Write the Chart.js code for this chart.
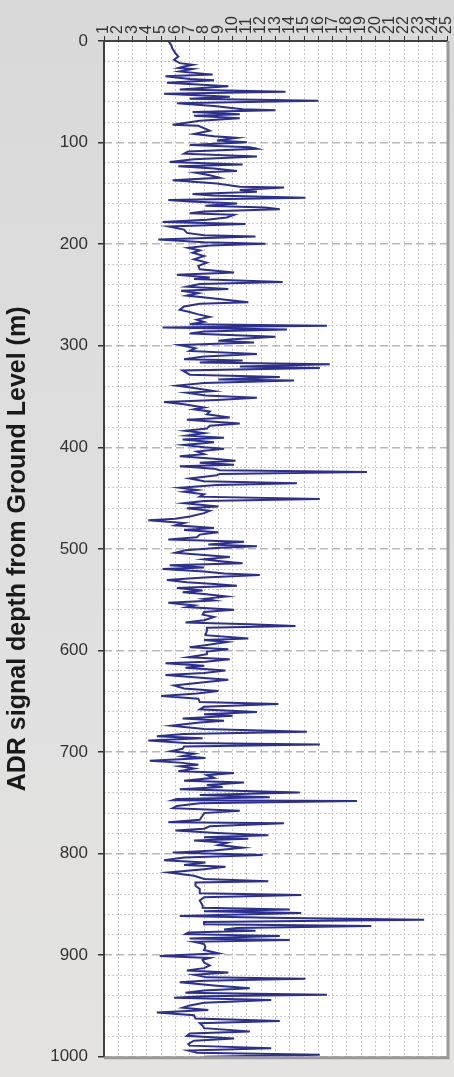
<!DOCTYPE html>
<html>
<head>
<meta charset="utf-8">
<script src="https://cdn.jsdelivr.net/npm/chart.js@4.4.0/dist/chart.umd.min.js"></script>
<style>
  html, body { margin: 0; padding: 0; }
  body { width: 454px; height: 1077px; overflow: hidden; background: linear-gradient(#d9d9d9, #e0e0e0 60%, #e4e3e1); }
  canvas { display: block; }
</style>
</head>
<body>
<canvas id="adrChart" width="454" height="1077"></canvas>
<script>
// depth below ground level (m) for each reading
const depthM = [
  0, 4, 8, 12, 15.3, 18.5, 21.8, 23.4, 25, 26.6, 27.6, 29.9, 33.1, 34.7, 37.3, 38.6, 41.2, 44.5, 47.7, 50,
  51.9, 54.9, 56.8, 58.8, 61.4, 64, 67.2, 68.2, 69.8, 72.1, 73.7, 76, 78.6, 82.5, 83.4, 88.3, 91.5, 93.8, 95.4, 98,
  99.7, 102.3, 104.5, 106.1, 108.7, 111, 113.6, 116.5, 119.1, 121.7, 123.3, 125.6, 127.9, 129.5, 132.1, 134.7, 137, 140.2, 143.5, 144.1,
  146.7, 148.3, 150.6, 152.2, 154.2, 156.5, 158.1, 160, 162.3, 163.9, 165.6,
  167.8, 169.5, 171.1, 173.7, 176, 178.2, 180.2, 182.5, 185.7, 188.9, 191.2, 192.5, 195.4, 198, 199.7, 201.3, 203.6, 206.2, 208.4, 211.7,
  214.9, 218.2, 221.4, 224.7, 227.9, 230.2, 232.8, 234.4, 237.3, 239.3, 241.9, 244.1, 245.8, 248.3, 250.6, 252.9, 257.1, 258.7, 261.3, 264.6,
  266.8, 269.1, 271.7, 274.3, 276.6, 278.9, 280.2, 282.1, 284.1, 286, 288, 291.2, 293.8, 295.1, 296.7, 299.3, 302.5, 305.1, 308.1, 310.7,
  313.3, 314.6, 316.5, 318.1, 320.4, 322, 324.3, 328.5, 330.8,
  333.3, 334.3, 336.6, 339.2, 341.5, 344.7, 346.3, 348.9, 351.2, 353.5, 355.4, 357.7, 360.9, 362.6, 364.8, 367.4, 370.7, 372.9, 374.9, 376.5,
  378.8, 381.4, 383.7, 385.9, 388.5, 390.5, 392.4, 395, 397.6, 399.9, 401.5, 404.1, 406.7, 408.7, 411.3, 413.2, 415.1, 417.1, 418.7, 421,
  422.6, 424.2, 426.2, 427.5, 430.7, 433.3, 435.3, 437.2, 439.8, 442.1, 443.7, 446.3, 448.6, 450.9, 452.8, 455, 458.3, 459.9, 462.5, 464.8,
  468, 470.3, 471.9, 474.5, 476.8, 479.4, 481.4, 483.6, 485.9, 488.5, 490.8, 493, 495.6, 497.3,
  498.8, 501.4, 503.7, 506, 507.9, 510.2, 511.8, 514.1, 516.1, 518.3, 519.9, 522.2, 524.2, 525.8, 528.1, 530.7, 532.9, 534.6, 536.2, 538.4,
  541, 542.7, 544.3, 546.9, 549.2, 550.8, 553.1, 555.7, 557.3, 559.9, 562.1, 564.7, 567, 570.3, 572.5, 574.2, 575.8, 577.7, 580.6, 584.9,
  588.1, 589.7, 591.7, 594.6, 596.9, 598.8, 601.1, 603.7, 606.6, 608.6, 611.2, 612.5, 615.1, 617, 619.6, 622.2, 624.1, 627.1, 628.7, 631.3,
  634.5, 637.5, 640, 642.3, 644.9, 647.5, 650.8, 652.7, 655.3, 657.9, 660.5,
  662.7, 664.3, 666.9, 669.2, 670.8, 674.1, 677.3, 679.9, 682.2, 684.5, 686.4, 688.7, 691, 692.6, 694.5, 696.8, 699.1, 701.7, 703.9, 705.9,
  708.5, 710.4, 712.4, 714, 716.3, 718.9, 720.5, 722.8, 725.4, 728.3, 729.9, 732.5, 734.5, 736.7, 739.7, 742.3, 744.5, 746.1, 747.4, 748.1,
  750.4, 753, 755.2, 757.8, 760.1, 762.4, 766.6, 769.2, 770.2, 773.1, 775.4, 777.3, 779.6, 781.9, 783.8, 785.4, 787, 789.3, 791.6, 794.2,
  796.8, 799, 801.3, 803.9, 806.5, 808.8, 811.1, 813, 815.3, 818.5, 821.8, 825, 827.3,
  828.3, 831.6, 834.8, 839, 840.7, 842.9, 846.2, 851, 853.3, 854.9, 856.6, 858.5, 860.1, 861.4, 863.1, 865, 867.3, 869.5, 871.2, 873.1,
  874.7, 876, 877.7, 879.3, 881.2, 883.5, 885.1, 886.8, 889, 891.6, 894.9, 898.1, 900.7, 902.7, 904.6, 907.2, 910.1, 912.7, 915, 916.9,
  919.2, 921.8, 923.1, 925.1, 926.7, 929.9, 932.5, 934.8, 937, 939, 940.3, 941.9, 944.2, 946.8, 949.4, 951.7, 953.9, 956.5, 959.1, 962.4,
  964.7, 966.9, 969.5, 971.8, 975, 977, 979.3, 981.9, 984.1, 987.4, 989, 991.6, 993.9, 996.1, 998.1, 1000
];

// ADR signal reading at each depth
const signal = [
  5.5, 5.7, 5.8, 6.0, 6.2, 5.9, 6.3, 7.2, 6.6, 6.2, 7.2, 6.3, 8.6, 5.3, 7.0, 8.7, 5.4, 9.7, 6.3, 13.7,
  5.2, 9.8, 7.0, 16.0, 6.1, 8.7, 10.7, 13.0, 7.2, 10.5, 7.3, 10.5, 7.7, 5.8, 7.6, 8.4, 7.3, 8.7, 10.3, 8.9,
  11.0, 7.0, 11.2, 11.7, 6.9, 6.6, 11.7, 7.3, 5.6, 10.7, 6.2, 8.7, 10.3, 7.4, 8.4, 9.1, 5.8, 8.9, 10.5, 13.6,
  10.5, 11.7, 7.2, 8.6, 15.1, 5.5, 7.0, 10.3, 8.1, 12.3, 13.3,
  8.0, 7.0, 10.1, 9.6, 8.2, 5.1, 10.9, 5.5, 6.6, 6.8, 8.0, 11.6, 4.8, 8.0, 12.3, 8.4, 6.9, 7.7, 7.2, 8.0,
  7.3, 8.2, 7.6, 7.7, 10.1, 6.1, 8.4, 7.3, 13.5, 7.7, 6.8, 9.7, 6.4, 7.6, 6.8, 8.4, 11.1, 7.7, 6.6, 6.3,
  7.0, 7.6, 8.4, 7.5, 8.0, 7.0, 16.6, 5.1, 13.8, 8.0, 7.0, 13.0, 9.8, 9.0, 11.5, 6.3, 7.4, 7.0, 11.7, 8.0,
  6.6, 10.7, 7.7, 16.8, 10.5, 16.1, 6.5, 7.0, 13.3,
  9.0, 14.3, 8.0, 6.1, 7.3, 8.7, 6.8, 8.1, 11.7, 8.9, 5.2, 6.6, 8.0, 7.3, 8.4, 8.2, 9.8, 6.8, 8.7, 10.5,
  8.4, 8.2, 6.7, 8.0, 6.8, 9.4, 6.5, 8.7, 6.6, 8.0, 9.4, 7.5, 8.0, 6.3, 8.7, 10.2, 7.7, 10.1, 6.3, 8.7,
  9.1, 19.4, 9.1, 8.9, 7.0, 8.0, 14.5, 8.9, 6.3, 7.5, 6.6, 8.0, 7.7, 16.1, 8.0, 6.6, 9.0, 6.8, 8.4, 8.0,
  7.0, 6.0, 4.1, 6.6, 6.0, 8.7, 6.6, 9.0, 7.7, 7.5, 5.5, 10.8, 8.3, 11.7,
  9.1, 6.7, 6.0, 8.0, 9.8, 8.0, 9.0, 10.7, 5.6, 8.0, 5.1, 8.0, 9.4, 11.9, 8.0, 5.4, 6.8, 8.7, 10.3, 6.1,
  7.9, 6.5, 8.0, 9.6, 8.0, 8.7, 5.5, 7.3, 6.8, 10.1, 8.0, 7.9, 8.7, 8.0, 6.7, 11.2, 14.4, 8.2, 8.2, 8.1,
  11.1, 8.0, 9.6, 8.2, 7.0, 9.7, 8.2, 8.2, 6.9, 9.8, 8.1, 5.3, 8.0, 6.7, 9.5, 8.0, 5.3, 8.0, 9.7, 8.0,
  5.9, 6.6, 9.0, 7.5, 5.0, 7.6, 7.7, 13.2, 8.0, 7.7, 11.7,
  8.0, 10.0, 6.5, 9.4, 7.7, 5.7, 8.0, 15.2, 6.6, 4.7, 7.9, 4.1, 6.7, 16.1, 6.6, 6.5, 5.7, 7.3, 6.5, 8.1,
  4.2, 6.3, 7.6, 6.3, 7.3, 6.2, 10.1, 8.2, 8.7, 6.6, 10.8, 8.2, 9.3, 6.3, 14.7, 7.7, 12.6, 6.1, 5.8, 18.7,
  7.7, 6.1, 5.8, 10.5, 8.0, 7.9, 7.7, 5.5, 13.6, 8.4, 8.0, 6.0, 8.9, 12.5, 8.0, 11.1, 7.3, 9.6, 9.0, 10.7,
  8.7, 5.8, 12.1, 6.6, 5.2, 8.1, 6.6, 9.5, 8.0, 5.5, 7.3, 8.0, 12.5,
  7.4, 7.4, 7.7, 7.7, 14.8, 8.0, 7.7, 7.9, 7.9, 14.0, 8.0, 14.8, 9.8, 6.3, 12.6, 23.4, 8.0, 8.0, 19.7, 10.3,
  9.4, 11.6, 6.9, 6.7, 13.3, 7.0, 14.0, 7.3, 8.0, 8.1, 8.0, 9.0, 4.9, 8.4, 7.9, 8.0, 8.4, 8.0, 6.8, 9.7,
  7.3, 8.2, 15.1, 8.0, 6.3, 8.7, 11.2, 8.0, 6.7, 16.6, 8.0, 5.9, 12.7, 8.0, 7.0, 6.5, 8.3, 4.7, 7.3, 7.4,
  13.3, 7.7, 7.9, 8.0, 11.2, 7.0, 6.8, 10.1, 7.3, 6.9, 7.0, 12.7, 6.9, 7.5, 16.1, 8.0
];

const signalTicks = [1, 2, 3, 4, 5, 6, 7, 8, 9, 10, 11, 12, 13, 14, 15, 16, 17, 18, 19, 20, 21, 22, 23, 24, 25];
const depthLabels = [0, 100, 200, 300, 400, 500, 600, 700, 800, 900, 1000];

const FONT = 'Liberation Sans, Arial, sans-serif';
const isMajor = ctx => ctx.tick && depthLabels.includes(ctx.tick.value);

// white plot area underneath, frame on top
const plotFrame = {
  id: 'plotFrame',
  beforeDraw(chart) {
    const { ctx, chartArea: a } = chart;
    ctx.save();
    ctx.fillStyle = '#ffffff';
    ctx.fillRect(a.left, a.top, a.right - a.left, a.bottom - a.top);
    ctx.restore();
  },
  afterDraw(chart) {
    const { ctx, chartArea: a } = chart;
    ctx.save();
    ctx.strokeStyle = '#999999';
    ctx.lineWidth = 3;
    ctx.beginPath();
    ctx.moveTo(a.right + 1, a.top);
    ctx.lineTo(a.right + 1, a.bottom + 1);
    ctx.lineTo(a.left, a.bottom + 1);
    ctx.stroke();
    ctx.strokeStyle = '#404040';
    ctx.lineWidth = 2;
    ctx.beginPath();
    ctx.moveTo(a.left, a.bottom);
    ctx.lineTo(a.left, a.top);
    ctx.lineTo(a.right, a.top);
    ctx.stroke();
    ctx.restore();
  }
};

new Chart(document.getElementById('adrChart'), {
  type: 'scatter',
  data: {
    datasets: [{
      data: depthM.map((d, i) => ({ x: signal[i], y: d })),
      showLine: true,
      borderColor: '#2b2f8f',
      borderWidth: 2,
      pointRadius: 0,
      tension: 0
    }]
  },
  options: {
    responsive: false,
    animation: false,
    devicePixelRatio: 1,
    layout: { padding: { left: 0, right: 7, top: 0, bottom: 9 } },
    plugins: { legend: { display: false }, tooltip: { enabled: false } },
    scales: {
      x: {
        type: 'linear',
        position: 'top',
        min: signalTicks[0],
        max: signalTicks[signalTicks.length - 1],
        afterFit: s => { s.height = 41; },
        ticks: {
          stepSize: 1,
          autoSkip: false,
          minRotation: 90,
          maxRotation: 90,
          padding: 2,
          labelOffset: 19,
          color: '#333333',
          font: { family: FONT, size: 16 }
        },
        grid: { color: '#c6c6c6', lineWidth: 1, tickLength: 5, tickColor: '#333333' },
        border: { display: false, dash: [2, 2] }
      },
      y: {
        type: 'linear',
        reverse: true,
        min: 0,
        max: 1000,
        afterFit: s => { s.width = 104; },
        ticks: {
          stepSize: 20,
          autoSkip: false,
          padding: 10,
          color: '#333333',
          font: { family: FONT, size: 17 },
          callback: v => depthLabels.includes(v) ? v : ''
        },
        grid: {
          color: ctx => isMajor(ctx) ? '#b8b8b8' : '#cccccc',
          lineWidth: ctx => isMajor(ctx) ? 1.5 : 1,
          tickLength: 6,
          tickColor: ctx => isMajor(ctx) ? '#333333' : 'rgba(0,0,0,0)'
        },
        border: { display: false, dash: ctx => isMajor(ctx) ? [8, 4] : [2, 2] },
        title: {
          display: true,
          text: 'ADR signal depth from Ground Level (m)',
          color: '#1a1a1a',
          font: { family: FONT, size: 25, weight: 'bold' },
          padding: { top: 3, bottom: 0 }
        }
      }
    }
  },
  plugins: [plotFrame]
});
</script>
</body>
</html>
